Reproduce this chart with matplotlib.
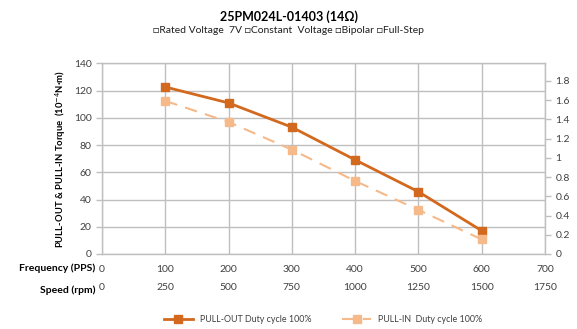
import numpy as np
import matplotlib
matplotlib.use('Agg')
import matplotlib.pyplot as plt
from matplotlib.ticker import MultipleLocator, FuncFormatter

plt.rcParams['font.family'] = ['Lato', 'DejaVu Sans']

# datos
freq = [100, 200, 300, 400, 500, 600]
pull_out = [122.6, 110.9, 93.1, 69.1, 45.7, 17.1]
pull_in = [112.4, 96.9, 76.6, 53.6, 32.4, 10.7]

freq_ticks = [0, 100, 200, 300, 400, 500, 600, 700]
rpm_ticks = [0, 250, 500, 750, 1000, 1250, 1500, 1750]

c_out = '#D2691E'
c_in = '#F5B98A'
grid_c = '#BFBFBF'
txt_c = '#404040'

fig = plt.figure(figsize=(5.77, 3.29), dpi=100)
ax = fig.add_axes([0.1768, 0.228, 0.7677, 0.5796])

ax.plot(freq, pull_out, color=c_out, lw=2.0, marker='s', ms=5.5,
        label='PULL-OUT Duty cycle 100%', zorder=3)
ax.plot(freq, pull_in, color=c_in, lw=1.5, ls=(0, (6, 4)), marker='s', ms=5.5,
        label='PULL-IN  Duty cycle 100%', zorder=3)

ax.set_xlim(0, 700)
ax.set_ylim(0, 140)
ax.set_xticks(freq_ticks)
ax.yaxis.set_major_locator(MultipleLocator(20))
ax.grid(True, color=grid_c, lw=1.0)
ax.set_axisbelow(True)
for s in ax.spines.values():
    s.set_color(grid_c)
    s.set_linewidth(1.0)

ax.tick_params(axis='y', labelsize=7.5, colors=grid_c, labelcolor=txt_c, length=4, width=1)
ax.tick_params(axis='x', labelsize=7.5, colors=grid_c, labelcolor=txt_c, length=0, pad=8)

ax.set_ylabel('PULL-OUT & PULL-IN Torque  (10$^{-4}$N·m)', fontsize=6.8, fontweight='bold',
              color='black', labelpad=4)

# eje derecho oz·in
ax2 = ax.twinx()
ax2.set_ylim(0, 140 / 70.6155)
ax2.yaxis.set_major_locator(MultipleLocator(0.2))
ax2.yaxis.set_major_formatter(FuncFormatter(lambda v, p: ('%.1f' % v).rstrip('0').rstrip('.')))
ax2.tick_params(axis='y', labelsize=7.5, colors=grid_c, labelcolor=txt_c, length=4, width=1)
for s in ax2.spines.values():
    s.set_visible(False)
ax2.set_ylabel('PULL-OUT & PULL-IN Torque  (oz·in)', fontsize=6.8, fontweight='bold',
               color='black', labelpad=6)

# segunda fila: rpm
sec = ax.secondary_xaxis(-0.15, functions=(lambda x: x * 2.5, lambda x: x / 2.5))
sec.set_xticks(rpm_ticks)
sec.spines['bottom'].set_visible(False)
sec.tick_params(axis='x', labelsize=7.5, labelcolor=txt_c, length=0, pad=0)

fig.text(0.165, 0.185, 'Frequency (PPS)', ha='right', va='center', fontsize=7.5, fontweight='bold')
fig.text(0.165, 0.118, 'Speed (rpm)', ha='right', va='center', fontsize=7.5, fontweight='bold')

fig.text(0.5, 0.95, '25PM024L-01403 (14Ω)', ha='center', va='center', fontsize=9, fontweight='bold')
fig.text(0.5, 0.908, '□Rated Voltage  7V □Constant  Voltage □Bipolar □Full-Step',
         ha='center', va='center', fontsize=7.5, color='#202020')

fig.legend(loc='center', bbox_to_anchor=(0.56, 0.03), ncol=2, frameon=False,
           fontsize=6.4, columnspacing=3.5, handlelength=3.2, labelcolor=txt_c)

fig.savefig('out.png', dpi=100)
